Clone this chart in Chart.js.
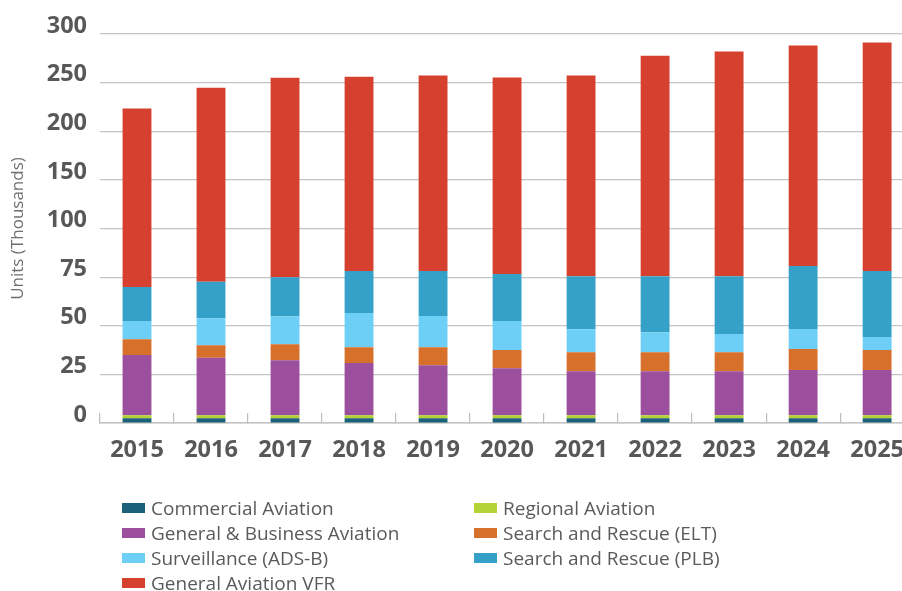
<!DOCTYPE html>
<html lang="en">
<head>
  <meta charset="UTF-8">
  <title>Units by segment, 2015 - 2025</title>
  <script src="https://cdn.jsdelivr.net/npm/chart.js"></script>
  <style>
    body { margin: 0; padding: 0; background: #fff; overflow: hidden; }
    #wrap { position: relative; width: 902px; height: 591px; overflow: hidden; }
    #chart { position: absolute; left: 0; top: 0; }
    #legend { position: absolute; left: 122px; top: 495px; display: grid;
      grid-template-columns: 352px auto; grid-auto-rows: 25.2px;
      font-family: "Open Sans", sans-serif; font-size: 19px; color: #5a5a5c; }
    .item { display: flex; align-items: center; white-space: nowrap; }
    .swatch { width: 23px; height: 10px; margin-right: 6px; flex: none; }
  </style>
</head>
<body>
  <div id="wrap">
    <canvas id="chart" width="927" height="591"></canvas>
    <div id="legend"></div>
  </div>
  <script>
    // categories
    const years = ['2015', '2016', '2017', '2018', '2019', '2020', '2021', '2022', '2023', '2024', '2025'];

    // series, thousands of units (bottom of the stack first)
    const commercial = [2.5, 2.5, 2.5, 2.5, 2.5, 2.5, 2.5, 2.5, 2.5, 2.5, 2.5];
    const regional   = [1.5, 1.5, 1.5, 1.5, 1.5, 1.5, 1.5, 1.5, 1.5, 1.5, 1.5];
    const generalBiz = [30.9, 29.5, 28.3, 26.8, 25.7, 24.2, 22.6, 22.6, 22.6, 23.2, 23.2];
    const sarElt     = [8.2, 6.5, 8.2, 8.2, 9.3, 9.3, 9.8, 9.8, 9.8, 10.8, 10.3];
    const adsb       = [9.3, 13.9, 14.4, 17.5, 16.0, 14.9, 11.8, 10.3, 9.3, 10.3, 6.7];
    const sarPlb     = [17.5, 18.7, 20.1, 21.6, 23.2, 24.2, 27.3, 28.8, 29.8, 32.4, 34.0];
    const gaVfr      = [153.4, 172.2, 180.1, 178.0, 179.1, 178.6, 181.7, 202.2, 206.4, 207.4, 213.0];

    // y axis ticks (evenly spaced on screen, uneven in value)
    const yTicks = [0, 25, 50, 75, 100, 150, 200, 250, 300];

    const seriesNames = ['Commercial Aviation', 'Regional Aviation', 'General & Business Aviation',
      'Search and Rescue (ELT)', 'Surveillance (ADS-B)', 'Search and Rescue (PLB)', 'General Aviation VFR'];
    const seriesData = [commercial, regional, generalBiz, sarElt, adsb, sarPlb, gaVfr];
    const seriesColors = ['#1c617a', '#b2d235', '#9b4f9c', '#d7702b', '#6dcff6', '#35a1c8', '#d6402e'];

    // linear scale whose ticks are spaced evenly, values interpolated between them
    class SplitScale extends Chart.LinearScale {
      buildTicks() {
        return yTicks.map(v => ({ value: v }));
      }
      toDecimal(v) {
        const n = yTicks.length - 1;
        if (v <= yTicks[0]) return 0;
        for (let i = 0; i < n; i++) {
          if (v <= yTicks[i + 1]) {
            return (i + (v - yTicks[i]) / (yTicks[i + 1] - yTicks[i])) / n;
          }
        }
        return 1;
      }
      getPixelForValue(v) {
        return this.getPixelForDecimal(this.toDecimal(v));
      }
      getValueForPixel(p) {
        const d = this.getDecimalForPixel(p) * (yTicks.length - 1);
        const i = Math.max(0, Math.min(yTicks.length - 2, Math.floor(d)));
        return yTicks[i] + (d - i) * (yTicks[i + 1] - yTicks[i]);
      }
    }
    SplitScale.id = 'split';
    SplitScale.defaults = Chart.LinearScale.defaults;
    Chart.register(SplitScale);

    const chart = new Chart(document.getElementById('chart'), {
      type: 'bar',
      data: {
        labels: years,
        datasets: seriesNames.map((name, i) => ({
          label: name,
          data: seriesData[i],
          backgroundColor: seriesColors[i],
          borderWidth: 0,
          categoryPercentage: 1,
          barPercentage: 0.39
        }))
      },
      options: {
        responsive: false,
        animation: false,
        layout: { padding: { top: 34, right: 0, bottom: 120, left: 0 } },
        plugins: {
          legend: { display: false },
          tooltip: { enabled: false }
        },
        scales: {
          x: {
            stacked: true,
            afterFit: s => { s.height = 48; },
            border: { display: true, color: '#c4c4c4', width: 1.5 },
            grid: { drawOnChartArea: false, drawTicks: true, tickLength: -10, color: '#bdbdbd', lineWidth: 1.2 },
            ticks: {
              padding: 23,
              color: '#58585a',
              font: { family: 'Open Sans', size: 23.5, weight: 'bold' }
            }
          },
          y: {
            type: 'split',
            stacked: true,
            min: 0,
            max: 300,
            afterFit: s => { s.width = 100; },
            border: { display: false },
            grid: { color: '#c4c4c4', lineWidth: 1.2, drawTicks: false },
            ticks: {
              padding: 13,
              labelOffset: -8,
              color: '#58585a',
              font: { family: 'Open Sans', size: 23.5, weight: 'bold' },
              callback: v => String(v)
            },
            title: {
              display: true,
              text: 'Units (Thousands)',
              color: '#6f6f71',
              padding: { top: 8, bottom: 0 },
              font: { family: 'Open Sans', size: 17 }
            }
          }
        }
      }
    });

    // legend in two columns, built from the chart's datasets
    const legend = document.getElementById('legend');
    chart.data.datasets.forEach(ds => {
      const item = document.createElement('div');
      item.className = 'item';
      const sw = document.createElement('span');
      sw.className = 'swatch';
      sw.style.background = ds.backgroundColor;
      item.appendChild(sw);
      item.appendChild(document.createTextNode(ds.label));
      legend.appendChild(item);
    });
  </script>
</body>
</html>
